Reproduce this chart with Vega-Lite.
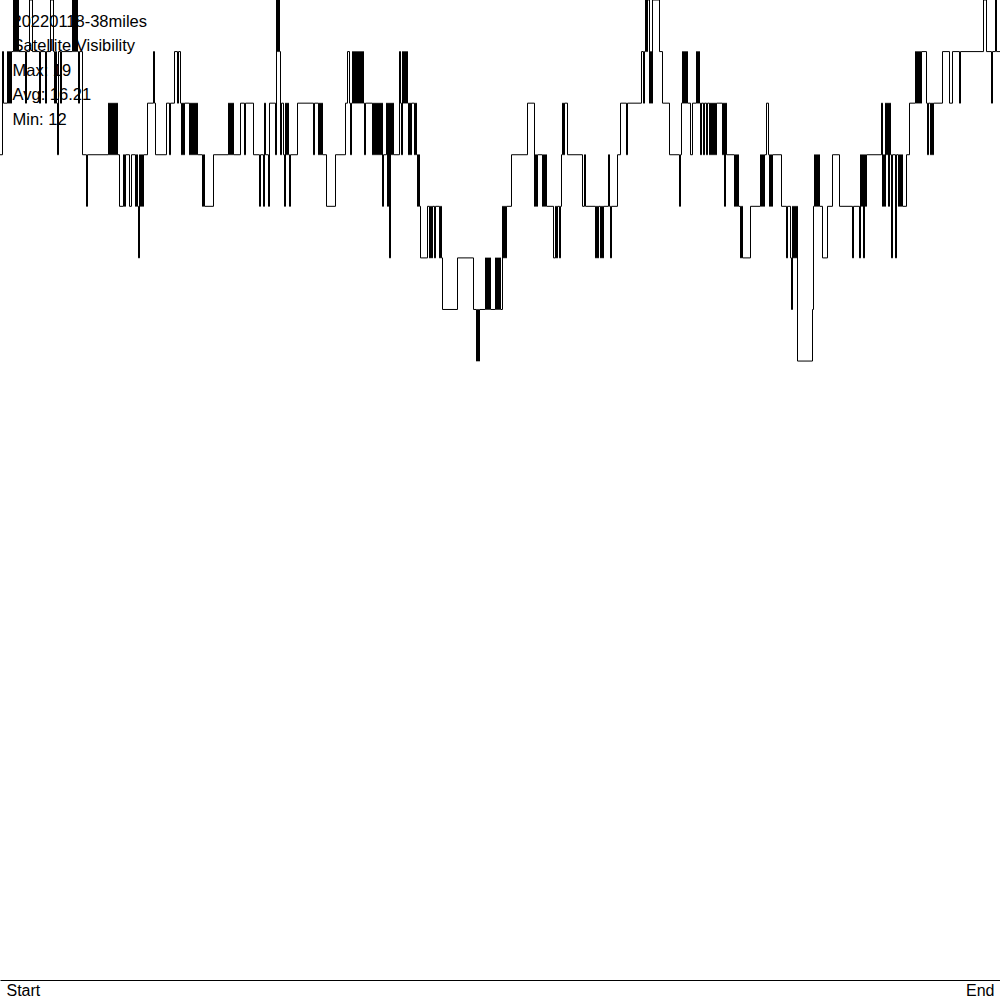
{
"$schema": "https://vega.github.io/schema/vega-lite/v6.json",
"width": 1000, "height": 980,
"autosize": {"type": "none"},
"padding": {"left": 0, "top": 0, "right": 0, "bottom": 20},
"background": "white",
"config": {"view": {"stroke": null}},
"datasets": {
"labels": [
{"line": 1, "label": "20220118-38miles"},
{"line": 2, "label": "Satellite Visibility"},
{"line": 3, "label": "Max: 19"},
{"line": 4, "label": "Avg: 16.21"},
{"line": 5, "label": "Min: 12"}
],
"series": [
{"t":0,"v":16},{"t":2.5,"v":18},{"t":3.5,"v":17},{"t":7.5,"v":18},{"t":8.5,"v":17},{"t":9.5,"v":18},{"t":10.5,"v":17},{"t":11.5,"v":18},{"t":13.5,"v":19},{"t":14.5,"v":18},{"t":15.5,"v":19},{"t":16.5,"v":18},{"t":17.5,"v":19},{"t":18.5,"v":18},{"t":25.5,"v":17},{"t":26.5,"v":18},{"t":29.5,"v":19},{"t":32.5,"v":18},{"t":39.5,"v":17},{"t":40.5,"v":18},{"t":45.5,"v":17},{"t":46.5,"v":18},{"t":50.5,"v":19},{"t":53.5,"v":18},{"t":54.5,"v":17},{"t":55.5,"v":18},{"t":56.5,"v":17},{"t":57.5,"v":16},{"t":58.5,"v":18},{"t":60.5,"v":17},{"t":61.5,"v":18},{"t":72.5,"v":19},{"t":73.5,"v":18},{"t":74.5,"v":19},{"t":75.5,"v":18},{"t":76.5,"v":19},{"t":77.5,"v":18},{"t":78.5,"v":17},{"t":79.5,"v":18},{"t":82.5,"v":16},{"t":86.5,"v":15},{"t":87.5,"v":16},
{"t":108.5,"v":17},{"t":109.5,"v":16},{"t":110.5,"v":17},{"t":111.5,"v":16},{"t":112.5,"v":17},{"t":113.5,"v":16},{"t":114.5,"v":17},{"t":115.5,"v":16},{"t":116.5,"v":17},{"t":117.5,"v":16},{"t":119.5,"v":15},{"t":123.5,"v":16},{"t":124.5,"v":15},{"t":125.5,"v":16},{"t":129.5,"v":15},{"t":131.5,"v":16},{"t":135.5,"v":15},{"t":136.5,"v":16},{"t":137.5,"v":15},{"t":138.5,"v":14},{"t":139.5,"v":16},{"t":140.5,"v":15},{"t":141.5,"v":16},{"t":142.5,"v":15},{"t":143.5,"v":16},{"t":147.5,"v":17},{"t":153.5,"v":18},{"t":154.5,"v":17},{"t":155.5,"v":16},{"t":166.5,"v":17},{"t":169.5,"v":16},{"t":170.5,"v":17},{"t":174.5,"v":18},{"t":177.5,"v":17},{"t":178.5,"v":18},{"t":180.5,"v":17},{"t":181.5,"v":16},{"t":182.5,"v":17},{"t":183.5,"v":16},{"t":184.5,"v":17},{"t":189.5,"v":16},{"t":190.5,"v":17},{"t":191.5,"v":16},{"t":192.5,"v":17},{"t":193.5,"v":16},{"t":194.5,"v":17},{"t":195.5,"v":16},{"t":196.5,"v":17},{"t":197.5,"v":16},
{"t":202.5,"v":15},{"t":203.5,"v":16},{"t":204.5,"v":15},{"t":213.5,"v":16},{"t":228.5,"v":17},{"t":229.5,"v":16},{"t":230.5,"v":17},{"t":231.5,"v":16},{"t":232.5,"v":17},{"t":233.5,"v":16},{"t":240.5,"v":17},{"t":244.5,"v":16},{"t":245.5,"v":17},{"t":253.5,"v":16},{"t":259.5,"v":15},{"t":260.5,"v":16},{"t":263.5,"v":15},{"t":264.5,"v":17},{"t":265.5,"v":16},{"t":268.5,"v":15},{"t":269.5,"v":17},{"t":275.5,"v":16},{"t":276.5,"v":19},{"t":277.5,"v":18},{"t":278.5,"v":19},{"t":279.5,"v":18},{"t":280.5,"v":16},{"t":281.5,"v":17},{"t":283.5,"v":16},{"t":284.5,"v":15},{"t":285.5,"v":17},{"t":286.5,"v":16},{"t":287.5,"v":17},{"t":288.5,"v":16},{"t":289.5,"v":15},{"t":290.5,"v":16},{"t":297.5,"v":17},
{"t":313.5,"v":16},{"t":314.5,"v":17},{"t":318.5,"v":16},{"t":319.5,"v":17},{"t":320.5,"v":16},{"t":321.5,"v":17},{"t":322.5,"v":16},{"t":326.5,"v":15},{"t":335.5,"v":16},{"t":345.5,"v":17},{"t":347.5,"v":18},{"t":349.5,"v":17},{"t":350.5,"v":16},{"t":351.5,"v":17},{"t":352.5,"v":18},{"t":353.5,"v":17},{"t":354.5,"v":18},{"t":355.5,"v":17},{"t":356.5,"v":18},{"t":357.5,"v":17},{"t":358.5,"v":18},{"t":359.5,"v":17},{"t":360.5,"v":18},{"t":361.5,"v":17},{"t":362.5,"v":18},{"t":363.5,"v":17},{"t":364.5,"v":16},{"t":365.5,"v":17},{"t":372.5,"v":16},{"t":373.5,"v":17},{"t":374.5,"v":16},{"t":375.5,"v":17},{"t":376.5,"v":16},{"t":377.5,"v":17},{"t":378.5,"v":16},{"t":379.5,"v":17},{"t":380.5,"v":16},{"t":381.5,"v":17},{"t":382.5,"v":15},{"t":383.5,"v":16},{"t":386.5,"v":17},{"t":387.5,"v":15},{"t":388.5,"v":17},{"t":389.5,"v":14},{"t":390.5,"v":17},{"t":391.5,"v":16},{"t":392.5,"v":17},{"t":393.5,"v":16},{"t":399.5,"v":18},
{"t":400.5,"v":17},{"t":401.5,"v":16},{"t":402.5,"v":18},{"t":403.5,"v":17},{"t":404.5,"v":18},{"t":405.5,"v":17},{"t":406.5,"v":18},{"t":407.5,"v":17},{"t":408.5,"v":16},{"t":409.5,"v":17},{"t":410.5,"v":16},{"t":411.5,"v":17},{"t":414.5,"v":16},{"t":415.5,"v":17},{"t":416.5,"v":16},{"t":417.5,"v":15},{"t":418.5,"v":16},{"t":419.5,"v":15},{"t":420.5,"v":14},{"t":427.5,"v":15},{"t":429.5,"v":14},{"t":430.5,"v":15},{"t":431.5,"v":14},{"t":432.5,"v":15},{"t":434.5,"v":14},{"t":435.5,"v":15},{"t":439.5,"v":14},{"t":440.5,"v":15},{"t":441.5,"v":14},{"t":442.5,"v":13},{"t":457.5,"v":14},{"t":473.5,"v":13},{"t":476.5,"v":12},{"t":477.5,"v":13},{"t":478.5,"v":12},{"t":479.5,"v":13},{"t":485.5,"v":14},{"t":486.5,"v":13},{"t":487.5,"v":14},{"t":488.5,"v":13},{"t":489.5,"v":14},{"t":490.5,"v":13},{"t":495.5,"v":14},{"t":496.5,"v":13},{"t":497.5,"v":14},{"t":498.5,"v":13},{"t":499.5,"v":14},{"t":500.5,"v":13},
{"t":502.5,"v":15},{"t":503.5,"v":14},{"t":504.5,"v":15},{"t":505.5,"v":14},{"t":506.5,"v":15},{"t":511.5,"v":16},{"t":527.5,"v":17},{"t":534.5,"v":15},{"t":535.5,"v":16},{"t":536.5,"v":15},{"t":537.5,"v":16},{"t":542.5,"v":15},{"t":543.5,"v":16},{"t":544.5,"v":15},{"t":545.5,"v":16},{"t":546.5,"v":15},{"t":553.5,"v":14},{"t":555.5,"v":15},{"t":556.5,"v":14},{"t":557.5,"v":15},{"t":559.5,"v":14},{"t":560.5,"v":15},{"t":561.5,"v":16},{"t":562.5,"v":17},{"t":563.5,"v":16},{"t":564.5,"v":17},{"t":567.5,"v":16},{"t":582.5,"v":15},{"t":584.5,"v":16},{"t":585.5,"v":15},{"t":595.5,"v":14},{"t":596.5,"v":15},{"t":597.5,"v":14},{"t":598.5,"v":15},
{"t":600.5,"v":14},{"t":601.5,"v":15},{"t":602.5,"v":14},{"t":603.5,"v":15},{"t":608.5,"v":16},{"t":609.5,"v":15},{"t":610.5,"v":14},{"t":611.5,"v":15},{"t":617.5,"v":16},{"t":620.5,"v":17},{"t":626.5,"v":16},{"t":627.5,"v":17},{"t":641.5,"v":18},{"t":643.5,"v":17},{"t":644.5,"v":18},{"t":645.5,"v":19},{"t":646.5,"v":18},{"t":647.5,"v":19},{"t":649.5,"v":17},{"t":650.5,"v":18},{"t":651.5,"v":17},{"t":652.5,"v":19},{"t":659.5,"v":18},{"t":662.5,"v":17},{"t":669.5,"v":16},{"t":679.5,"v":15},{"t":680.5,"v":16},{"t":681.5,"v":17},{"t":682.5,"v":18},{"t":683.5,"v":17},{"t":684.5,"v":18},{"t":685.5,"v":17},{"t":686.5,"v":18},{"t":687.5,"v":17},{"t":690.5,"v":16},{"t":692.5,"v":17},{"t":696.5,"v":18},{"t":697.5,"v":17},{"t":698.5,"v":18},{"t":699.5,"v":17},
{"t":700.5,"v":16},{"t":701.5,"v":17},{"t":703.5,"v":16},{"t":704.5,"v":17},{"t":706.5,"v":16},{"t":707.5,"v":17},{"t":709.5,"v":16},{"t":710.5,"v":17},{"t":711.5,"v":16},{"t":712.5,"v":17},{"t":713.5,"v":16},{"t":714.5,"v":17},{"t":715.5,"v":16},{"t":716.5,"v":17},{"t":722.5,"v":16},{"t":723.5,"v":17},{"t":724.5,"v":15},{"t":725.5,"v":17},{"t":726.5,"v":16},{"t":734.5,"v":15},{"t":735.5,"v":16},{"t":736.5,"v":15},{"t":737.5,"v":16},{"t":738.5,"v":15},{"t":740.5,"v":14},{"t":741.5,"v":15},{"t":742.5,"v":14},{"t":750.5,"v":15},{"t":760.5,"v":16},{"t":761.5,"v":15},{"t":762.5,"v":16},{"t":763.5,"v":15},{"t":764.5,"v":16},{"t":766.5,"v":17},{"t":768.5,"v":16},{"t":769.5,"v":15},{"t":770.5,"v":16},{"t":771.5,"v":15},{"t":772.5,"v":16},{"t":781.5,"v":15},{"t":786.5,"v":14},{"t":787.5,"v":15},{"t":790.5,"v":14},{"t":791.5,"v":13},{"t":792.5,"v":15},{"t":793.5,"v":14},{"t":794.5,"v":15},{"t":795.5,"v":14},{"t":796.5,"v":15},{"t":797.5,"v":12},
{"t":812.5,"v":13},{"t":813.5,"v":15},{"t":814.5,"v":16},{"t":815.5,"v":15},{"t":816.5,"v":16},{"t":817.5,"v":15},{"t":818.5,"v":16},{"t":819.5,"v":15},{"t":822.5,"v":14},{"t":827.5,"v":15},{"t":832.5,"v":16},{"t":839.5,"v":15},{"t":852.5,"v":14},{"t":853.5,"v":15},{"t":859.5,"v":14},{"t":860.5,"v":16},{"t":861.5,"v":15},{"t":862.5,"v":16},{"t":863.5,"v":14},{"t":864.5,"v":16},{"t":865.5,"v":15},{"t":866.5,"v":16},{"t":881.5,"v":17},{"t":882.5,"v":15},{"t":883.5,"v":16},{"t":884.5,"v":15},{"t":885.5,"v":17},{"t":886.5,"v":16},{"t":887.5,"v":17},{"t":888.5,"v":15},{"t":889.5,"v":17},{"t":890.5,"v":16},{"t":891.5,"v":14},{"t":892.5,"v":16},{"t":895.5,"v":14},{"t":896.5,"v":16},{"t":898.5,"v":15},
{"t":899.5,"v":16},{"t":900.5,"v":15},{"t":901.5,"v":16},{"t":902.5,"v":15},{"t":906.5,"v":16},{"t":909.5,"v":17},{"t":915.5,"v":18},{"t":916.5,"v":17},{"t":917.5,"v":18},{"t":918.5,"v":17},{"t":919.5,"v":18},{"t":920.5,"v":17},{"t":921.5,"v":18},{"t":926.5,"v":17},{"t":927.5,"v":16},{"t":928.5,"v":17},{"t":930.5,"v":16},{"t":931.5,"v":17},{"t":932.5,"v":16},{"t":933.5,"v":17},{"t":942.5,"v":18},{"t":949.5,"v":17},{"t":952.5,"v":18},{"t":959.5,"v":17},{"t":960.5,"v":18},{"t":983.5,"v":19},{"t":986.5,"v":18},{"t":991.5,"v":17},{"t":992.5,"v":18},{"t":995.5,"v":19},{"t":996.5,"v":18},{"t":1000,"v":18}
]
},
"layer": [
{
"data": {"name": "series"},
"mark": {"type": "line", "interpolate": "step-after", "color": "black", "strokeWidth": 1},
"encoding": {
"x": {"field": "t", "type": "quantitative", "scale": {"domain": [0, 1000], "nice": false, "zero": false},
"axis": {"values": [0, 1000], "labelExpr": "datum.value == 0 ? 'Start' : 'End'", "ticks": false, "grid": false, "title": null, "domainColor": "black", "domainWidth": 1, "labelFont": "Liberation Sans", "labelFontSize": 16, "labelColor": "black", "labelPadding": 2, "labelFlush": true, "labelFlushOffset": -6}},
"y": {"field": "v", "type": "quantitative", "scale": {"domain": [0, 19], "nice": false}, "axis": null}
}
},
{
"data": {"name": "labels"},
"mark": {"type": "text", "align": "left", "baseline": "alphabetic", "font": "Liberation Sans", "fontSize": 16.5, "color": "black", "dy": 2},
"encoding": {
"x": {"datum": 12.5, "type": "quantitative"},
"y": {"field": "line", "type": "quantitative", "scale": {"domain": [0, 40], "reverse": true, "nice": false}, "axis": null},
"text": {"field": "label"}
}
}
],
"resolve": {"scale": {"y": "independent"}}
}
